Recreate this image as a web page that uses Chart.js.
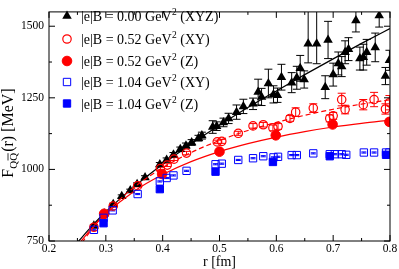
<!DOCTYPE html>
<html><head><meta charset="utf-8">
<script src="https://cdn.jsdelivr.net/npm/chart.js@4.4.0/dist/chart.umd.min.js"></script>
<style>html,body{margin:0;padding:0;background:#fff;}</style>
</head><body>
<canvas id="c" width="399" height="269" style="display:block"></canvas>
<script>
// ---------- DATA ----------
const xTicks = [0.2, 0.3, 0.4, 0.5, 0.6, 0.7, 0.8];
const xMinor = [0.25, 0.35, 0.45, 0.55, 0.65, 0.75];
const yTicks = [750, 1000, 1250, 1500];
const yMinor = [875, 1125, 1375];

const legendLabels = [
  ['|e|B = 0.00 GeV', '2', ' (XYZ)'],
  ['|e|B = 0.52 GeV', '2', ' (XY)'],
  ['|e|B = 0.52 GeV', '2', ' (Z)'],
  ['|e|B = 1.04 GeV', '2', ' (XY)'],
  ['|e|B = 1.04 GeV', '2', ' (Z)']
];

// |e|B = 0 (XYZ)
const rB0 = [0.279,0.297,0.313,0.328,0.343,0.355,0.369,0.395,0.407,0.419,0.431,0.441,0.451,0.463,0.469,0.488,0.495,0.507,0.516,0.530,0.542,0.559,0.568,0.574,0.586,0.595,0.602,0.609,0.627,0.636,0.642,0.649,0.656,0.671,0.686,0.691,0.700,0.709,0.715,0.721,0.727,0.740,0.747,0.753,0.759,0.774,0.781,0.792,0.799];
const fB0 = [803,846,878,906,926,948,972,1017,1033,1051,1070,1083,1094,1109,1118,1148,1151,1164,1178,1200,1220,1229,1270,1253,1300,1262,1259,1322,1303,1320,1353,1314,1439,1439,1287,1452,1331,1370,1359,1409,1420,1520,1387,1392,1409,1426,1537,1326,1381];
const eB0Lo = [4,4,4,5,5,5,6,7,7,8,8,9,10,10,12,22,15,15,18,25,25,20,45,30,50,30,25,45,35,40,45,30,67,70,40,65,40,40,35,40,40,40,40,45,45,50,40,30,35];
const eB0Hi = [4,4,4,5,5,5,6,7,7,8,8,9,10,10,12,22,15,15,18,25,25,20,45,30,50,30,25,45,35,40,45,30,150,150,40,65,40,40,35,40,40,40,40,45,45,50,40,30,35];

// |e|B = 0.52 (XY)
const rXY52 = [0.279,0.297,0.313,0.356,0.396,0.408,0.420,0.442,0.496,0.504,0.533,0.559,0.577,0.594,0.603,0.624,0.634,0.665,0.694,0.700,0.715,0.721,0.753,0.772,0.792,0.799];
const fXY52 = [798,843,872,943,1003,1015,1036,1057,1096,1098,1126,1152,1156,1145,1150,1178,1200,1214,1178,1187,1244,1209,1226,1244,1211,1233];
const eXY52 = [3,3,4,4,5,5,5,6,6,7,7,8,8,10,10,10,15,15,12,12,22,15,18,25,18,25];

// |e|B = 0.52 (Z)
const rZ52 = [0.297,0.399,0.500,0.599,0.699,0.799];
const fZ52 = [845,984,1062,1119,1157,1166];
const eZ52 = [3,4,6,6,8,10];

// |e|B = 1.04 (XY)
const rXY104 = [0.279,0.296,0.312,0.356,0.395,0.407,0.419,0.442,0.493,0.504,0.533,0.559,0.577,0.595,0.603,0.627,0.636,0.665,0.694,0.703,0.715,0.723,0.754,0.772,0.793,0.799];
const fXY104 = [789,831,857,914,958,970,979,995,1018,1020,1033,1039,1046,1042,1044,1050,1050,1056,1053,1053,1053,1051,1059,1059,1059,1059];
const eXY104 = [2,2,2,2,2,2,2,2,2,2,2,2,2,2,2,2,2,2,2,2,2,2,2,2,2,2];

// |e|B = 1.04 (Z)
const rZ104 = [0.296,0.395,0.493,0.594,0.694,0.793];
const fZ104 = [812,931,992,1026,1046,1051];
const eZ104 = [3,3,3,3,3,3];

// fit curves
const rFit   = [0.25,0.275,0.3,0.35,0.4,0.45,0.5,0.55,0.6,0.65,0.7,0.75,0.8];
const fitB0  = [745,801,852,940,1018,1089,1154,1216,1274,1331,1386,1440,1492];
const fitXY52= [721,790,848,938,1006,1059,1101,1136,1164,1189,1210,1228,1243];
const fitZ52 = [733,794,845,924,982,1027,1062,1090,1113,1132,1148,1161,1172];

// ---------- CHART ----------
const RED = '#ff0000', BLUE = '#0000ff', BLACK = '#000000';
const SERIF = '"Liberation Serif", "Times New Roman", serif';
const pts = (xs, ys) => xs.map((x, i) => ({x: x, y: ys[i]}));

const errSets = [
  {r: rB0, f: fB0, lo: eB0Lo, hi: eB0Hi, color: BLACK, cap: 4},
  {r: rXY52, f: fXY52, lo: eXY52, hi: eXY52, color: RED, cap: 4},
  {r: rZ52, f: fZ52, lo: eZ52, hi: eZ52, color: RED, cap: 4},
  {r: rXY104, f: fXY104, lo: eXY104, hi: eXY104, color: BLUE, cap: 2.5},
  {r: rZ104, f: fZ104, lo: eZ104, hi: eZ104, color: BLUE, cap: 2.5}
];

const legendMarkers = [
  {pointStyle: 'triangle', radius: 5.5, fill: BLACK, stroke: BLACK, bw: 0},
  {pointStyle: 'circle', radius: 4.2, fill: null, stroke: RED, bw: 1.2},
  {pointStyle: 'circle', radius: 4.8, fill: RED, stroke: RED, bw: 1},
  {pointStyle: 'rect', radius: 5.2, fill: null, stroke: BLUE, bw: 1},
  {pointStyle: 'rect', radius: 5.2, fill: BLUE, stroke: BLUE, bw: 1}
];

const decor = {
  id: 'decor',
  beforeDatasetsDraw(chart) {
    const {ctx, chartArea: a, scales: {x, y}} = chart;
    ctx.save();
    ctx.beginPath(); ctx.rect(a.left, a.top, a.right - a.left, a.bottom - a.top); ctx.clip();
    ctx.lineWidth = 1;
    errSets.forEach(s => {
      ctx.strokeStyle = s.color;
      ctx.beginPath();
      s.r.forEach((r, i) => {
        const px = x.getPixelForValue(r);
        const y1 = y.getPixelForValue(s.f[i] + s.hi[i]);
        const y0 = y.getPixelForValue(s.f[i] - s.lo[i]);
        ctx.moveTo(px, y1); ctx.lineTo(px, y0);
        ctx.moveTo(px - s.cap, y1); ctx.lineTo(px + s.cap, y1);
        ctx.moveTo(px - s.cap, y0); ctx.lineTo(px + s.cap, y0);
      });
      ctx.stroke();
    });
    ctx.restore();
  },
  afterDraw(chart) {
    const {ctx, chartArea: a, scales: {x, y}} = chart;
    ctx.save();
    // frame
    ctx.strokeStyle = BLACK; ctx.lineWidth = 1;
    ctx.strokeRect(a.left, a.top, a.right - a.left, a.bottom - a.top);
    ctx.beginPath();
    const tickX = (v, len) => { const p = x.getPixelForValue(v);
      ctx.moveTo(p, a.bottom); ctx.lineTo(p, a.bottom - len);
      ctx.moveTo(p, a.top); ctx.lineTo(p, a.top + len); };
    const tickY = (v, len) => { const p = y.getPixelForValue(v);
      ctx.moveTo(a.left, p); ctx.lineTo(a.left + len, p);
      ctx.moveTo(a.right, p); ctx.lineTo(a.right - len, p); };
    xTicks.forEach(v => tickX(v, 6)); xMinor.forEach(v => tickX(v, 3));
    yTicks.forEach(v => tickY(v, 6)); yMinor.forEach(v => tickY(v, 3));
    ctx.stroke();

    // legend
    const rowsY = [16, 39, 61, 82, 103.5];
    legendMarkers.forEach((m, i) => {
      ctx.fillStyle = m.fill || 'rgba(0,0,0,0)';
      ctx.strokeStyle = m.stroke; ctx.lineWidth = m.bw;
      Chart.helpers.drawPoint(ctx, {pointStyle: m.pointStyle, radius: m.radius, rotation: 0, borderWidth: m.bw}, 67, rowsY[i]);
      const [pre, sup, post] = legendLabels[i];
      const bx = 81, by = rowsY[i] + 5;
      ctx.fillStyle = BLACK;
      ctx.textBaseline = 'alphabetic'; ctx.textAlign = 'left';
      ctx.font = '14px ' + SERIF;
      ctx.fillText(pre, bx, by);
      let w = ctx.measureText(pre).width;
      ctx.font = '9.5px ' + SERIF;
      ctx.fillText(sup, bx + w + 0.5, by - 6);
      w += ctx.measureText(sup).width + 0.5;
      ctx.font = '14px ' + SERIF;
      ctx.fillText(post, bx + w, by);
    });

    // y-axis title F_{QQbar}(r) [MeV]
    ctx.save();
    ctx.translate(13, 133);
    ctx.rotate(-Math.PI / 2);
    ctx.fillStyle = BLACK; ctx.strokeStyle = BLACK;
    ctx.textBaseline = 'alphabetic'; ctx.textAlign = 'left';
    const big = '16px ' + SERIF, small = '11px ' + SERIF;
    ctx.font = big; const wF = ctx.measureText('F').width;
    const wRest = ctx.measureText('(r) [MeV]').width;
    ctx.font = small; const wQ = ctx.measureText('Q').width;
    const total = wF + 2 * wQ + 1 + wRest;
    let cx = -total / 2;
    ctx.font = big; ctx.fillText('F', cx, 0); cx += wF;
    ctx.font = small; ctx.fillText('QQ', cx, 3.5);
    ctx.lineWidth = 0.8;
    ctx.beginPath(); ctx.moveTo(cx + wQ + 0.3, -5); ctx.lineTo(cx + 2 * wQ - 0.3, -5); ctx.stroke();
    cx += 2 * wQ + 1;
    ctx.font = big; ctx.fillText('(r) [MeV]', cx, 0);
    ctx.restore();

    ctx.restore();
  }
};

new Chart(document.getElementById('c'), {
  type: 'scatter',
  data: {
    datasets: [
      {data: pts(rFit, fitB0), showLine: true, borderColor: BLACK, borderWidth: 1.2, pointRadius: 0, cubicInterpolationMode: 'monotone', order: 10},
      {data: pts(rB0, fB0), pointStyle: 'triangle', pointRadius: 5.5, backgroundColor: BLACK, borderColor: BLACK, borderWidth: 0, order: 9},
      {data: pts(rFit, fitXY52), showLine: true, borderColor: RED, borderWidth: 1.2, borderDash: [5, 3], pointRadius: 0, cubicInterpolationMode: 'monotone', order: 8},
      {data: pts(rFit, fitZ52), showLine: true, borderColor: RED, borderWidth: 1.2, pointRadius: 0, cubicInterpolationMode: 'monotone', order: 7},
      {data: pts(rXY52, fXY52), pointStyle: 'circle', pointRadius: 4.2, backgroundColor: 'rgba(0,0,0,0)', borderColor: RED, borderWidth: 1.2, order: 6},
      {data: pts(rZ52, fZ52), pointStyle: 'circle', pointRadius: 4.8, backgroundColor: RED, borderColor: RED, borderWidth: 1, order: 5},
      {data: pts(rXY104, fXY104), pointStyle: 'rect', pointRadius: 5.2, backgroundColor: 'rgba(0,0,0,0)', borderColor: BLUE, borderWidth: 1, order: 4},
      {data: pts(rZ104, fZ104), pointStyle: 'rect', pointRadius: 5.2, backgroundColor: BLUE, borderColor: BLUE, borderWidth: 1, order: 3}
    ]
  },
  options: {
    responsive: false,
    animation: false,
    events: [],
    devicePixelRatio: 1,
    layout: {padding: {top: 1, right: 9, left: 0, bottom: 0}},
    plugins: {legend: {display: false}, tooltip: {enabled: false}},
    scales: {
      x: {
        type: 'linear', min: 0.2, max: 0.8,
        afterBuildTicks: s => { s.ticks = xTicks.map(v => ({value: v})); },
        afterFit: s => { s.height = 28; },
        grid: {display: false, drawTicks: false, tickLength: 0},
        border: {display: false},
        ticks: {callback: v => Number(v).toFixed(1), font: {family: SERIF, size: 11.5}, color: BLACK, padding: 1, maxRotation: 0, autoSkip: false},
        title: {display: true, text: 'r [fm]', font: {family: SERIF, size: 14}, color: BLACK, padding: {top: 0, bottom: -2}}
      },
      y: {
        type: 'linear', min: 750, max: 1550,
        afterBuildTicks: s => { s.ticks = yTicks.map(v => ({value: v})); },
        afterFit: s => { s.width = 49; },
        grid: {display: false, drawTicks: false, tickLength: 0},
        border: {display: false},
        ticks: {callback: v => String(v), font: {family: SERIF, size: 11.5}, color: BLACK, padding: 5, autoSkip: false}
      }
    }
  },
  plugins: [decor]
});
</script>
</body></html>
